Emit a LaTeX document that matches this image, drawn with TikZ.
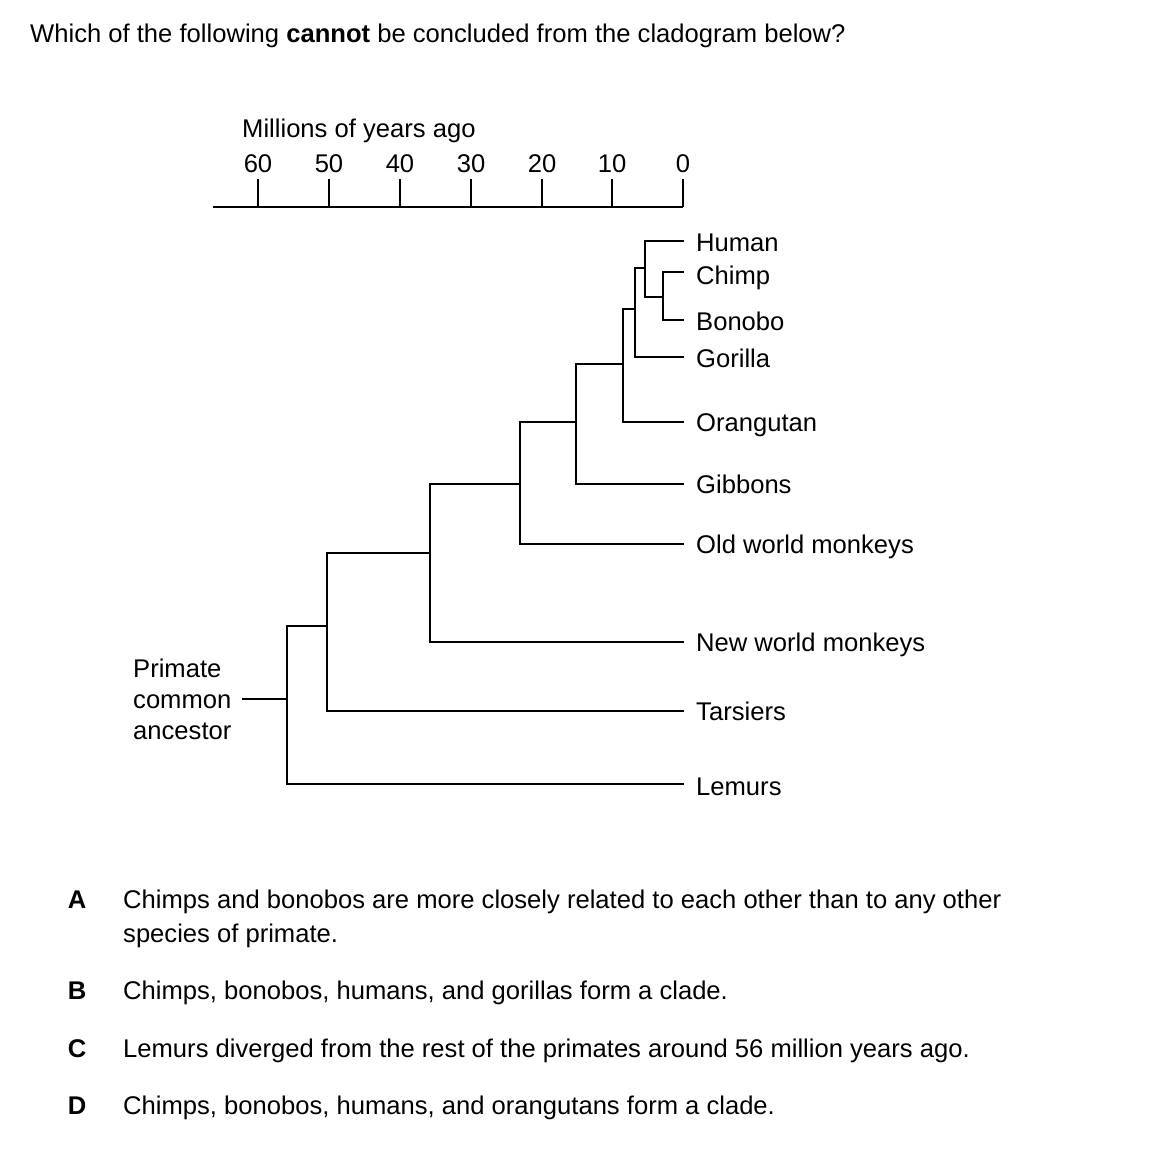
\documentclass[tikz,border=0pt]{standalone}
\usepackage{fontspec}
\setmainfont{Liberation Sans}
\begin{document}
\begin{tikzpicture}[x=1pt,y=-1pt,
  txt/.style={font=\fontsize{25.6}{31}\selectfont, inner sep=0pt, anchor=base west},
  num/.style={font=\fontsize{25.6}{31}\selectfont, inner sep=0pt, anchor=base},
  branch/.style={line width=1.8pt, line cap=rect},
]
\useasboundingbox (0,0) rectangle (1152,1152);
\fill[white] (0,0) rectangle (1152,1152);

% question
\node[txt] (q) at (30,42) {Which of the following \textbf{cannot} be concluded from the cladogram below?};

% axis
\node[txt] (axtitle) at (242,137) {Millions of years ago};
\coordinate (axL) at (213,207);
\coordinate (axR) at (683,207);
\draw[branch, line cap=butt] (axL) -- (axR);
\foreach \v/\x in {60/258,50/329,40/400,30/471,20/542,10/612,0/683}{
  \coordinate (t\v) at (\x,207);
  \coordinate (tt\v) at (\x,179);
  \draw[branch, line cap=butt] (t\v) -- (tt\v);
  \node[num] (n\v) at (\x,172) {\v};
}

% labels
\node[txt] (human) at (696,251) {Human};
\node[txt] (chimp) at (696,284) {Chimp};
\node[txt] (bonobo) at (696,330) {Bonobo};
\node[txt] (gorilla) at (696,367) {Gorilla};
\node[txt] (orang) at (696,431) {Orangutan};
\node[txt] (gibbons) at (696,493) {Gibbons};
\node[txt] (owm) at (696,553) {Old world monkeys};
\node[txt] (nwm) at (696,651) {New world monkeys};
\node[txt] (tars) at (696,720) {Tarsiers};
\node[txt] (lem) at (696,795) {Lemurs};
\node[font=\fontsize{25.6}{31}\selectfont, inner sep=0pt, anchor=west, align=left] (anc) at (133,699) {Primate\\common\\ancestor};

% leaf endpoints
\coordinate (eHu) at (683,241);
\coordinate (eCh) at (683,272);
\coordinate (eBo) at (683,320);
\coordinate (eGo) at (683,357);
\coordinate (eOr) at (683,422);
\coordinate (eGi) at (683,484);
\coordinate (eOw) at (683,544);
\coordinate (eNw) at (683,642);
\coordinate (eTa) at (683,711);
\coordinate (eLe) at (683,784);

% tree
\coordinate (a0) at (243,699);
\draw[branch] (a0) -- (287,699);
\draw[branch] (287,626) -- (287,784) -- (eLe);
\draw[branch] (287,626) -- (327,626);
\draw[branch] (327,553) -- (327,711) -- (eTa);
\draw[branch] (327,553) -- (430,553);
\draw[branch] (430,484) -- (430,642) -- (eNw);
\draw[branch] (430,484) -- (520,484);
\draw[branch] (520,422) -- (520,544) -- (eOw);
\draw[branch] (520,422) -- (576,422);
\draw[branch] (576,364) -- (576,484) -- (eGi);
\draw[branch] (576,364) -- (623,364);
\draw[branch] (623,309) -- (623,422) -- (eOr);
\draw[branch] (623,309) -- (635,309);
\draw[branch] (635,268) -- (635,357) -- (eGo);
\draw[branch] (635,268) -- (645,268);
\draw[branch] (645,297) -- (645,241) -- (eHu);
\draw[branch] (645,297) -- (663,297);
\draw[branch] (663,272) -- (663,320) -- (eBo);
\draw[branch] (663,272) -- (eCh);

% options
\node[txt, font=\fontsize{25.6}{31}\selectfont\bfseries, anchor=base] (A) at (77,908) {A};
\node[txt] (Atext) at (123,908) {Chimps and bonobos are more closely related to each other than to any other};
\node[txt] (Atext2) at (123,942) {species of primate.};
\node[txt, font=\fontsize{25.6}{31}\selectfont\bfseries, anchor=base] (B) at (77,999) {B};
\node[txt] (Btext) at (123,999) {Chimps, bonobos, humans, and gorillas form a clade.};
\node[txt, font=\fontsize{25.6}{31}\selectfont\bfseries, anchor=base] (C) at (77,1057) {C};
\node[txt] (Ctext) at (123,1057) {Lemurs diverged from the rest of the primates around 56 million years ago.};
\node[txt, font=\fontsize{25.6}{31}\selectfont\bfseries, anchor=base] (D) at (77,1114) {D};
\node[txt] (Dtext) at (123,1114) {Chimps, bonobos, humans, and orangutans form a clade.};
\end{tikzpicture}
\end{document}
